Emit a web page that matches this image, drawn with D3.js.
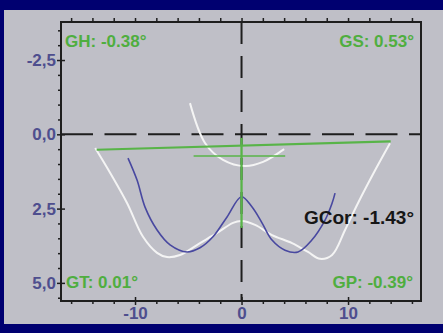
<!DOCTYPE html>
<html>
<head>
<meta charset="utf-8">
<script src="https://cdn.jsdelivr.net/npm/d3@7"></script>
<style>
  body { margin: 0; background: #000070; }
  svg { display: block; }
  .tick text { font-family: 'Liberation Sans', Arial, sans-serif; font-weight: bold; font-size: 17px; fill: #4e4e8e; }
  .lbl { font-family: 'Liberation Sans', Arial, sans-serif; font-weight: bold; font-size: 17px; }
</style>
</head>
<body>
<svg width="443" height="333"></svg>
<script>
  const svg = d3.select('svg');
  const width = +svg.attr('width');
  const height = +svg.attr('height');

  // tick values
  const xMajor = [-10, 0, 10];
  const xMinor = [-16, -14, -12, -8, -6, -4, -2, 2, 4, 6, 8, 12, 14, 16];
  const yMajor = [-2.5, 0, 2.5, 5];
  const yMinor = [-3.5, -3, -2, -1.5, -1, -0.5, 0.5, 1, 1.5, 2, 3, 3.5, 4, 4.5, 5.5];

  // white outer bowl
  const bowlX = [-13.74, -12.33, -10.75, -9.25, -7.93, -7.0, -5.77, -3.9, -2.3, -0.8, 0, 1.27, 2.86, 4.74, 6.24, 7.37, 8.5, 9.72, 10.94, 12.54, 13.94];
  const bowlY = [0.46, 1.30, 2.31, 3.45, 3.99, 4.13, 4.06, 3.66, 3.32, 2.98, 2.92, 3.05, 3.39, 3.66, 3.96, 4.19, 4.06, 3.22, 2.31, 1.21, 0.30];

  // white upper arc
  const arcX = [-4.84, -3.43, -1.74, 0.33, 2.02, 4.0];
  const arcY = [-1.05, 0.29, 0.86, 1.07, 0.93, 0.50];

  // blue curve
  const blueX = [-10.66, -9.81, -9.06, -7.93, -6.71, -5.12, -3.9, -2.68, -1.36, 0, 0.99, 1.92, 2.86, 4.08, 5.3, 6.6, 7.84, 8.5, 8.78];
  const blueY = [0.80, 1.54, 2.45, 3.22, 3.72, 3.96, 3.82, 3.45, 2.78, 2.10, 2.45, 2.98, 3.56, 3.90, 3.96, 3.56, 2.89, 2.32, 1.98];

  // green reference lines [x1, y1, x2, y2]
  const greenLong = [-13.6, 0.52, 14.0, 0.24];
  const greenShort = [-4.5, 0.73, 4.1, 0.73];
  const greenVert = [0, 0.12, 0, 3.15];

  const cornerLabels = ['GH: -0.38°', 'GS: 0.53°', 'GT: 0.01°', 'GP: -0.39°'];
  const corLabel = 'GCor: -1.43°';

  const margin = { top: 22, right: 22, bottom: 32, left: 61 };
  const innerWidth = width - margin.left - margin.right;
  const innerHeight = height - margin.top - margin.bottom;

  const xScale = d3.scaleLinear().domain([-16.95, 16.85]).range([0, innerWidth]);
  const yScale = d3.scaleLinear().domain([-3.78, 5.61]).range([0, innerHeight]);

  const yFmt = v => d3.format('.1f')(v).replace('−', '-').replace('.', ',');
  const xFmt = v => String(v);

  // panel
  svg.append('rect')
    .attr('x', 4).attr('y', 10)
    .attr('width', width - 4).attr('height', 314)
    .attr('fill', '#bfbfc7');

  const g = svg.append('g')
    .attr('transform', `translate(${margin.left}, ${margin.top})`);

  const ink = '#1e1e1e';

  // dashed zero lines
  g.append('line')
    .attr('x1', 0).attr('x2', innerWidth)
    .attr('y1', yScale(0)).attr('y2', yScale(0))
    .attr('stroke', ink).attr('stroke-width', 2)
    .attr('stroke-dasharray', '32,11.5');
  g.append('line')
    .attr('x1', xScale(0)).attr('x2', xScale(0))
    .attr('y1', 0).attr('y2', innerHeight)
    .attr('stroke', ink).attr('stroke-width', 2)
    .attr('stroke-dasharray', '22,12');

  const line = d3.line()
    .x(d => xScale(d[0]))
    .y(d => yScale(d[1]))
    .curve(d3.curveCatmullRom);

  const pairs = (xs, ys) => xs.map((x, i) => [x, ys[i]]);

  g.append('path')
    .datum(pairs(bowlX, bowlY))
    .attr('d', line)
    .attr('fill', 'none').attr('stroke', '#f4f4f4').attr('stroke-width', 2);

  g.append('path')
    .datum(pairs(arcX, arcY))
    .attr('d', line)
    .attr('fill', 'none').attr('stroke', '#f4f4f4').attr('stroke-width', 2);

  g.append('path')
    .datum(pairs(blueX, blueY))
    .attr('d', line)
    .attr('fill', 'none').attr('stroke', '#4848a0').attr('stroke-width', 1.6);

  const green = '#58b448';
  [[greenLong, 2.2], [greenShort, 1.5], [greenVert, 2.3]].forEach(([l, w]) => {
    g.append('line')
      .attr('x1', xScale(l[0])).attr('y1', yScale(l[1]))
      .attr('x2', xScale(l[2])).attr('y2', yScale(l[3]))
      .attr('stroke', green).attr('stroke-width', w);
  });

  // axes
  const leftMinor = g.append('g')
    .call(d3.axisLeft(yScale).tickValues(yMinor).tickSize(3).tickFormat(''));
  const leftMajor = g.append('g')
    .call(d3.axisLeft(yScale).tickValues(yMajor).tickSize(4).tickPadding(1).tickFormat(yFmt));
  leftMajor.selectAll('.tick line').attr('x2', 4).attr('x1', -4);

  const bottomMinor = g.append('g')
    .attr('transform', `translate(0, ${innerHeight})`)
    .call(d3.axisBottom(xScale).tickValues(xMinor).tickSize(3).tickFormat(''));
  const bottomMajor = g.append('g')
    .attr('transform', `translate(0, ${innerHeight})`)
    .call(d3.axisBottom(xScale).tickValues(xMajor).tickSize(4).tickPadding(2).tickFormat(xFmt));
  bottomMajor.selectAll('.tick line').attr('y1', -4);

  const topAxis = g.append('g')
    .call(d3.axisTop(xScale).tickValues(xMinor.concat(xMajor)).tickSize(4).tickFormat(''));

  [leftMinor, leftMajor, bottomMinor, bottomMajor, topAxis].forEach(a => {
    a.selectAll('.tick line').attr('stroke', ink).attr('stroke-width', 1.5);
    a.select('.domain').remove();
  });

  // frame
  g.append('rect')
    .attr('width', innerWidth).attr('height', innerHeight)
    .attr('fill', 'none').attr('stroke', ink).attr('stroke-width', 2);

  // labels
  const textGreen = '#4fae3f';
  const corners = [
    { x: 4, y: 25, anchor: 'start' },
    { x: innerWidth - 7, y: 25, anchor: 'end' },
    { x: 5, y: 266, anchor: 'start' },
    { x: innerWidth - 8, y: 266, anchor: 'end' }
  ];
  cornerLabels.forEach((t, i) => {
    g.append('text')
      .attr('class', 'lbl')
      .attr('x', corners[i].x).attr('y', corners[i].y)
      .attr('text-anchor', corners[i].anchor)
      .attr('fill', textGreen)
      .text(t);
  });

  g.append('text')
    .attr('class', 'lbl')
    .attr('x', 243).attr('y', 202)
    .attr('fill', '#161616')
    .style('font-size', '19px')
    .text(corLabel);
</script>
</body>
</html>
